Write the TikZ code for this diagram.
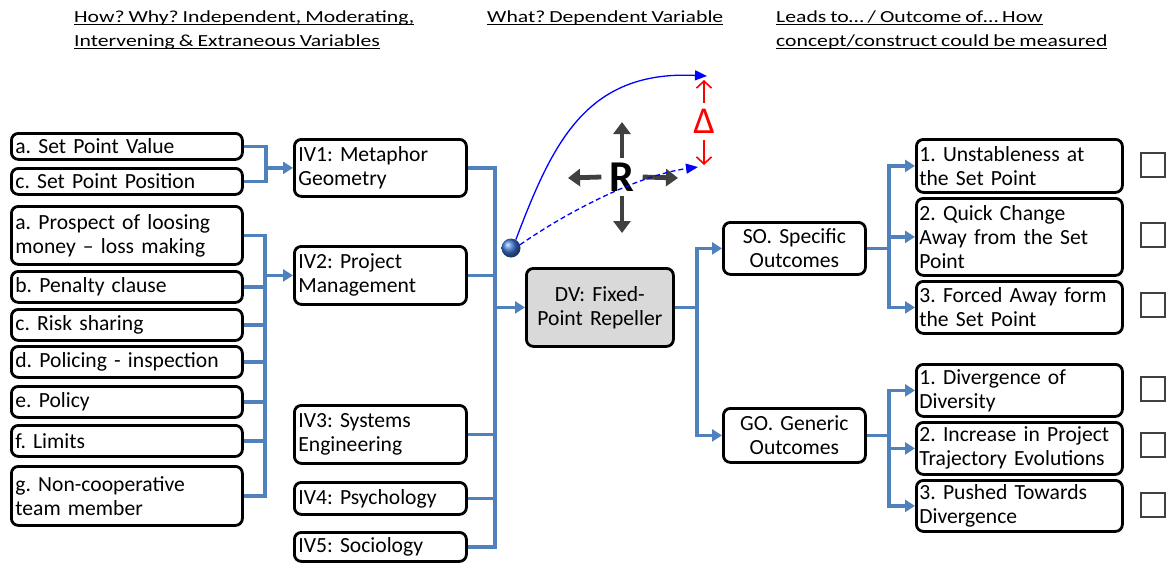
\documentclass[tikz,border=0pt]{standalone}
\usepackage{graphicx}
\usepackage{fontspec}
\setmainfont{Carlito}[WordSpace=0.8]
\usetikzlibrary{arrows.meta}
\definecolor{conn}{RGB}{79,129,189}
\definecolor{arrgray}{RGB}{64,64,64}
\definecolor{dvfill}{RGB}{217,217,217}
\definecolor{ballblue}{RGB}{60,115,210}
\frenchspacing
% underlined, vertically condensed heading line
\newcommand\hdrtext[1]{\scalebox{1}[0.78]{\setbox0\hbox{#1}\rlap{\rule[-4.4pt]{\wd0}{1.9pt}}\box0}}
\begin{document}
\begin{tikzpicture}[x=1pt,y=-1pt,
  box/.style={draw, line width=2.8pt, rounded corners=7pt, fill=white,
    inner xsep=4pt, inner ysep=0pt, align=left, anchor=north west,
    font=\fontsize{21.6}{24}\selectfont},
  lb/.style={box, text width=223pt},
  ivb/.style={box, text width=164pt},
  cb/.style={box, align=center, text width=134pt},
  rb/.style={box, inner xsep=3pt, text width=200pt},
  hdr/.style={inner sep=0pt, anchor=base west, font=\fontsize{21.7}{24}\selectfont},
  conn/.style={draw=conn, line width=3.4pt},
  arr/.style={conn, -{Triangle[length=10pt,width=12pt]}},
  rarr/.style={draw=arrgray, line width=4.8pt, -{Triangle[length=12pt,width=17pt]}},
  curve/.style={draw=blue, line width=1.3pt, -{Triangle[length=12pt,width=10pt]}},
  redarr/.style={draw=red, line width=1.6pt, -{Straight Barb[length=7pt,width=15pt]}},
  chk/.style={draw=arrgray, line width=1.2pt, minimum size=24pt, inner sep=0pt}]
\useasboundingbox (0,0) rectangle (1169,562);

% column headings
\node[hdr] (h1a) at (74,22) {\hdrtext{How? Why? Independent, Moderating,}};
\node[hdr] (h1b) at (74,46) {\hdrtext{Intervening \& Extraneous Variables}};
\node[hdr] (h2)  at (487,22) {\hdrtext{What? Dependent Variable}};
\node[hdr] (h3a) at (776,22) {\hdrtext{Leads to… / Outcome of… How}};
\node[hdr] (h3b) at (776,46) {\hdrtext{concept/construct could be measured}};

% moderating / intervening variables
\node[lb, minimum height=26pt] (a1) at (10,132) {a. Set Point Value};
\node[lb, minimum height=26pt] (a2) at (10,167) {c. Set Point Position};
\node[lb, minimum height=58pt] (b1) at (10,205) {a. Prospect of loosing\\money – loss making};
\node[lb, minimum height=31pt] (b2) at (10,270) {b. Penalty clause};
\node[lb, minimum height=31pt] (b3) at (10,308) {c. Risk sharing};
\node[lb, minimum height=31pt] (b4) at (10,345) {d. Policing - inspection};
\node[lb, minimum height=31pt] (b5) at (10,385) {e. Policy};
\node[lb, minimum height=31pt] (b6) at (10,424) {f. Limits};
\node[lb, minimum height=59pt] (b7) at (10,465) {g. Non-cooperative\\team member};

% independent variables
\node[ivb, minimum height=57pt] (iv1) at (293,138) {IV1: Metaphor\\Geometry};
\node[ivb, minimum height=58pt] (iv2) at (293,245) {IV2: Project\\Management};
\node[ivb, minimum height=58pt] (iv3) at (293,404) {IV3: Systems\\Engineering};
\node[ivb, minimum height=32pt] (iv4) at (293,481) {IV4: Psychology};
\node[ivb, minimum height=29pt] (iv5) at (293,531) {IV5: Sociology};

% dependent variable and outcome groups
\node[cb, fill=dvfill, text width=139pt, minimum height=78pt] (dv) at (525,267) {DV: Fixed-\\Point Repeller};
\node[cb, minimum height=52pt] (so) at (722,221) {SO. Specific\\Outcomes};
\node[cb, minimum height=54pt] (go) at (722,407) {GO. Generic\\Outcomes};

% measured outcomes
\node[rb, minimum height=53pt] (r1) at (915,138) {1. Unstableness at\\the Set Point};
\node[rb, minimum height=77pt] (r2) at (915,197) {2. Quick Change\\Away from the Set\\Point};
\node[rb, minimum height=52pt] (r3) at (915,280) {3. Forced Away form\\the Set Point};
\node[rb, minimum height=52pt] (r4) at (915,363) {1. Divergence of\\Diversity};
\node[rb, minimum height=52pt] (r5) at (915,421) {2. Increase in Project\\Trajectory Evolutions};
\node[rb, minimum height=51pt] (r6) at (915,479) {3. Pushed Towards\\Divergence};

% tick boxes
\node[chk] (c1) at (1153,165) {};
\node[chk] (c2) at (1153,235) {};
\node[chk] (c3) at (1153,305) {};
\node[chk] (c4) at (1153,389) {};
\node[chk] (c5) at (1153,445) {};
\node[chk] (c6) at (1153,505) {};

% connectors
\coordinate (j1) at (iv1.west -| 266,0);
\foreach \n in {a1,a2} \draw[conn] (\n.east) -| (j1);
\draw[arr] (j1) -- (iv1.west);

\coordinate (j2) at (iv2.west -| 265,0);
\foreach \n in {b1,b2,b3,b4,b5,b6,b7} \draw[conn] (\n.east) -| (j2);
\draw[arr] (j2) -- (iv2.west);

\coordinate (j3) at (dv.west -| 495,0);
\foreach \n in {iv1,iv2,iv3,iv4,iv5} \draw[conn] (\n.east) -| (j3);
\draw[arr] (j3) -- (dv.west);

\coordinate (j4) at (dv.east -| 697,0);
\draw[conn] (dv.east) -- (j4);
\draw[arr] (j4) |- (so.west);
\draw[arr] (j4) |- (go.west);

\coordinate (j5) at (so.east -| 889,0);
\draw[conn] (so.east) -- (j5);
\foreach \n in {r1,r2,r3} \draw[arr] (j5) |- (\n.west);

\coordinate (j6) at (go.east -| 889,0);
\draw[conn] (go.east) -- (j6);
\foreach \n in {r4,r5,r6} \draw[arr] (j6) |- (\n.west);

% repeller symbol
\node[font=\fontsize{44}{44}\selectfont\bfseries, inner sep=0pt,
      minimum width=41pt, minimum height=38pt] (R) at (622,177) {R};
\coordinate (rU) at (622,122);
\coordinate (rD) at (622,233);
\coordinate (rL) at (568,178);
\coordinate (rR) at (678,178);
\draw[rarr] (R.north) -- (rU);
\draw[rarr] (R.south) -- (rD);
\draw[rarr] (R.west) -- (rL);
\draw[rarr] (R.east) -- (rR);

% state ball and trajectories
\node[circle, inner sep=0pt, minimum size=19pt, ball color=ballblue] (ball) at (511,248) {};
\coordinate (t1) at (707,76);
\coordinate (t2) at (698,167);
\draw[curve] (ball.60) .. controls (552,145) and (585,70) .. (t1);
\draw[curve, dash pattern=on 5pt off 3pt] (ball.20) .. controls (570,210) and (640,175) .. (t2);

% divergence marker
\node[text=red, font=\fontsize{38}{38}\selectfont, inner sep=0pt, minimum height=37pt] (dl) at (704,121.5) {\raisebox{-4pt}{Δ}};
\coordinate (dU) at (704,80);
\coordinate (dD) at (704,165);
\draw[redarr] (dl.north) -- (dU);
\draw[redarr] (dl.south) -- (dD);
\end{tikzpicture}
\end{document}
